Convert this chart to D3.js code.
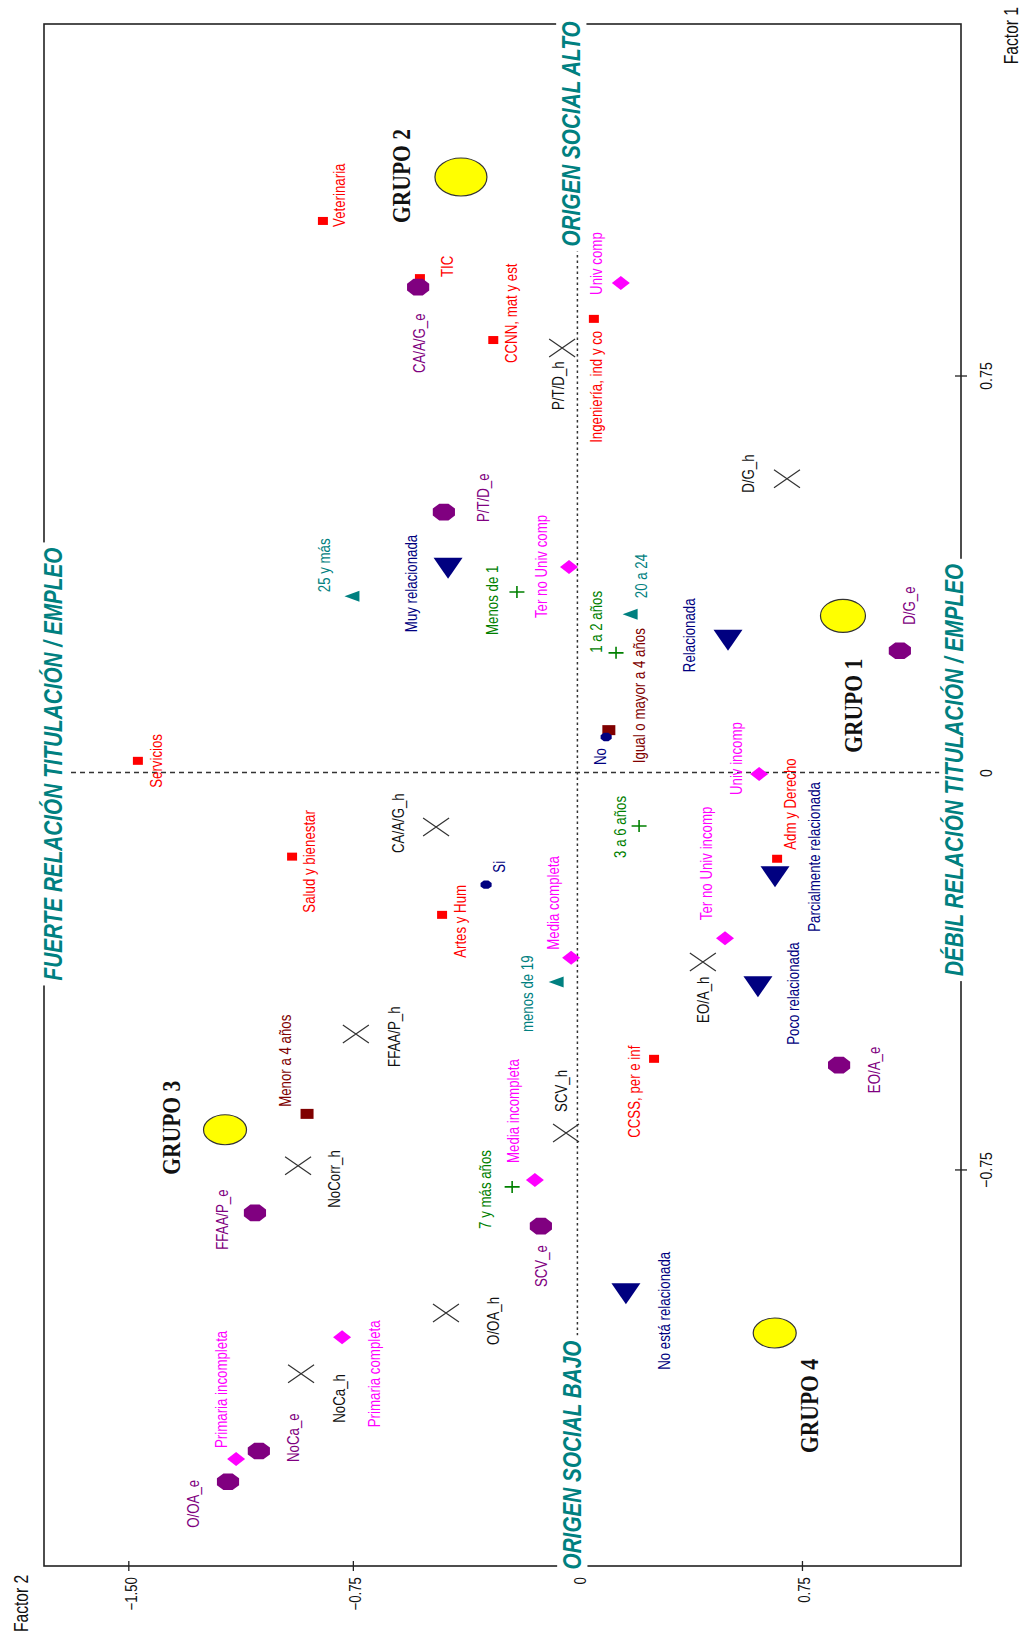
<!DOCTYPE html>
<html>
<head>
<meta charset="utf-8">
<script src="https://cdn.jsdelivr.net/npm/d3@7/dist/d3.min.js"></script>
<style>
  body { margin: 0; background: #fff; }
  svg text { font-family: "Liberation Sans", Arial, sans-serif; }
  svg text.grupo { font-family: "Liberation Serif", "Times New Roman", serif; }
</style>
</head>
<body>
<div id="chart"></div>
<script>
// Mapa factorial girado: Factor 2 en horizontal, Factor 1 en vertical

// Rama de titulación
const titulacion = [
  { name: "Veterinaria", f2: -0.850, f1: 1.042 },
  { name: "TIC", f2: -0.526, f1: 0.934 },
  { name: "CCNN, mat y est", f2: -0.281, f1: 0.817 },
  { name: "Ingeniería, ind y co", f2: 0.055, f1: 0.857 },
  { name: "Servicios", f2: -1.468, f1: 0.022 },
  { name: "Salud y bienestar", f2: -0.953, f1: -0.159 },
  { name: "Artes y Hum", f2: -0.452, f1: -0.269 },
  { name: "Adm y Derecho", f2: 0.667, f1: -0.163 },
  { name: "CCSS, per e inf", f2: 0.256, f1: -0.541 }
];
// Duración de la carrera
const duracion = [
  { name: "Igual o mayor a 4 años", f2: 0.105, f1: 0.080 },
  { name: "Menor a 4 años", f2: -0.903, f1: -0.645 }
];
// Ocupación (e)
const ocupacionE = [
  { name: "CA/A/G_e", f2: -0.532, f1: 0.917 },
  { name: "P/T/D_e", f2: -0.446, f1: 0.492 },
  { name: "D/G_e", f2: 1.077, f1: 0.230 },
  { name: "EO/A_e", f2: 0.874, f1: -0.553 },
  { name: "FFAA/P_e", f2: -1.077, f1: -0.832 },
  { name: "SCV_e", f2: -0.122, f1: -0.857 },
  { name: "NoCa_e", f2: -1.064, f1: -1.282 },
  { name: "O/OA_e", f2: -1.167, f1: -1.340 }
];
// Ocupación (h)
const ocupacionH = [
  { name: "P/T/D_h", f2: -0.051, f1: 0.802 },
  { name: "D/G_h", f2: 0.700, f1: 0.555 },
  { name: "CA/A/G_h", f2: -0.472, f1: -0.103 },
  { name: "FFAA/P_h", f2: -0.740, f1: -0.494 },
  { name: "EO/A_h", f2: 0.419, f1: -0.358 },
  { name: "SCV_h", f2: -0.038, f1: -0.681 },
  { name: "NoCorr_h", f2: -0.933, f1: -0.743 },
  { name: "O/OA_h", f2: -0.439, f1: -1.021 },
  { name: "NoCa_h", f2: -0.923, f1: -1.136 }
];
// Nivel de estudios
const estudios = [
  { name: "Univ comp", f2: 0.145, f1: 0.925 },
  { name: "Ter no Univ comp", f2: -0.028, f1: 0.388 },
  { name: "Univ incomp", f2: 0.607, f1: -0.003 },
  { name: "Ter no Univ incomp", f2: 0.493, f1: -0.313 },
  { name: "Media completa", f2: -0.021, f1: -0.350 },
  { name: "Media incompleta", f2: -0.142, f1: -0.770 },
  { name: "Primaria completa", f2: -0.786, f1: -1.067 },
  { name: "Primaria incompleta", f2: -1.140, f1: -1.297 }
];
// Relación titulación / empleo
const relacion = [
  { name: "Muy relacionada", f2: -0.432, f1: 0.386 },
  { name: "Relacionada", f2: 0.503, f1: 0.250 },
  { name: "Parcialmente relacionada", f2: 0.660, f1: -0.197 },
  { name: "Poco relacionada", f2: 0.603, f1: -0.405 },
  { name: "No está relacionada", f2: 0.162, f1: -0.985 }
];
// Edad
const edad = [
  { name: "25 y más", f2: -0.753, f1: 0.333 },
  { name: "20 a 24", f2: 0.176, f1: 0.299 },
  { name: "menos de 19", f2: -0.071, f1: -0.396 }
];
// Experiencia
const experiencia = [
  { name: "Menos de 1", f2: -0.202, f1: 0.341 },
  { name: "1 a 2 años", f2: 0.129, f1: 0.226 },
  { name: "3 a 6 años", f2: 0.206, f1: -0.101 },
  { name: "7 y más años", f2: -0.218, f1: -0.783 }
];
// Sí / No
const siNo = [
  { name: "No", f2: 0.096, f1: 0.067 },
  { name: "Si", f2: -0.305, f1: -0.212 }
];
// Centros de grupo
const grupos = [
  { name: "GRUPO 1", f2: 0.887, f1: 0.296 },
  { name: "GRUPO 2", f2: -0.389, f1: 1.125 },
  { name: "GRUPO 3", f2: -1.177, f1: -0.675 },
  { name: "GRUPO 4", f2: 0.659, f1: -1.059 }
];

const ticksF2 = [-1.50, -0.75, 0, 0.75];
const ticksF1 = [-0.75, 0, 0.75];

// posición de etiquetas (px respecto al punto)
const labelPos = {
  "Veterinaria": [22, 6], "TIC": [33, -1], "CCNN, mat y est": [24, 23],
  "Ingeniería, ind y co": [8, 124], "Servicios": [24, 27], "Salud y bienestar": [23, 56],
  "Artes y Hum": [24, 43], "Adm y Derecho": [19, -9], "CCSS, per e inf": [-14, 79],
  "Igual o mayor a 4 años": [36, 33], "Menor a 4 años": [-16, -7],
  "CA/A/G_e": [7, 86], "P/T/D_e": [45, 10], "D/G_e": [15, -26], "EO/A_e": [41, 28],
  "FFAA/P_e": [-27, 37], "SCV_e": [6, 61], "NoCa_e": [40, 11], "O/OA_e": [-29, 46],
  "P/T/D_h": [2, 62], "D/G_h": [-33, 14], "CA/A/G_h": [-32, 26], "FFAA/P_h": [44, 33],
  "EO/A_h": [6, 61], "SCV_h": [1, -21], "NoCorr_h": [42, 42], "O/OA_h": [53, 32], "NoCa_h": [44, 49],
  "Univ comp": [-19, 12], "Ter no Univ comp": [-22, 51], "Univ incomp": [-17, 21],
  "Ter no Univ incomp": [-13, -18], "Media completa": [-12, -8], "Media incompleta": [-16, -17],
  "Primaria completa": [38, 90], "Primaria incompleta": [-9, -11],
  "Muy relacionada": [-31, 64], "Relacionada": [-33, 32], "Parcialmente relacionada": [45, 55],
  "Poco relacionada": [41, 58], "No está relacionada": [44, 76],
  "25 y más": [-22, -4], "20 a 24": [17, -16], "menos de 19": [-23, 50],
  "Menos de 1": [-19, 43], "1 a 2 años": [-14, 0], "3 a 6 años": [-13, 32], "7 y más años": [-21, 42],
  "No": [0, 28], "Si": [19, -12],
  "GRUPO 1": [19, 137], "GRUPO 2": [-51, 46], "GRUPO 3": [-45, 45], "GRUPO 4": [43, 120]
};

const W = 1027, H = 1636;
const frame = { left: 44, right: 961, top: 24, bottom: 1566 };

const x = d3.scaleLinear().domain([-1.7816, 1.2812]).range([frame.left, frame.right]);
const y = d3.scaleLinear().domain([-1.4992, 1.4141]).range([frame.bottom, frame.top]);

const svg = d3.select("#chart").append("svg")
  .attr("width", W).attr("height", H);

function rot(px, py, s) {
  return "translate(" + px + "," + py + ") rotate(-90) scale(" + s + ",1)";
}

// marco
svg.append("rect")
  .attr("x", frame.left).attr("y", frame.top)
  .attr("width", frame.right - frame.left).attr("height", frame.bottom - frame.top)
  .attr("fill", "none").attr("stroke", "#222").attr("stroke-width", 1.6);

// ejes por el origen
svg.append("line")
  .attr("x1", x(0)).attr("x2", x(0)).attr("y1", frame.top).attr("y2", frame.bottom)
  .attr("stroke", "#333").attr("stroke-width", 1.5).attr("stroke-dasharray", "2.5,3");
svg.append("line")
  .attr("x1", frame.left).attr("x2", frame.right).attr("y1", y(0)).attr("y2", y(0))
  .attr("stroke", "#333").attr("stroke-width", 1.3).attr("stroke-dasharray", "5,4");

// eje inferior (Factor 2)
let axB = svg.append("g")
  .attr("transform", "translate(0," + frame.bottom + ")")
  .call(d3.axisBottom(x).tickValues(ticksF2).tickSize(4).tickFormat(d3.format(".2f")));
axB.select(".domain").remove();
axB.selectAll(".tick line").attr("y1", -5).attr("y2", 5).attr("stroke", "#222").attr("stroke-width", 1.3);
axB.selectAll(".tick text")
  .attr("y", null).attr("dy", null)
  .attr("transform", rot(8, 11, 0.83))
  .attr("text-anchor", "end")
  .attr("font-size", 16).attr("fill", "#111")
  .text(d => d === 0 ? "0" : d3.format(".2f")(d));

// eje derecho (Factor 1)
let axR = svg.append("g")
  .attr("transform", "translate(" + frame.right + ",0)")
  .call(d3.axisRight(y).tickValues(ticksF1).tickSize(4));
axR.select(".domain").remove();
axR.selectAll(".tick line").attr("x1", -6).attr("x2", 6).attr("stroke", "#222").attr("stroke-width", 1.3);
axR.selectAll(".tick text")
  .attr("x", null).attr("dy", null)
  .attr("transform", rot(31, 0, 0.83))
  .attr("text-anchor", "middle")
  .attr("font-size", 17).attr("fill", "#111")
  .text(d => d === 0 ? "0" : d3.format(".2f")(d));

// títulos de ejes
svg.append("text").attr("transform", rot(1018, 7, 0.78))
  .attr("text-anchor", "end").attr("font-size", 20).attr("fill", "#111").text("Factor 1");
svg.append("text").attr("transform", rot(28, 1632, 0.78))
  .attr("text-anchor", "start").attr("font-size", 20).attr("fill", "#111").text("Factor 2");

// rótulos de los cuadrantes, con fondo blanco
function heading(txt, px, py) {
  let g = svg.append("g").attr("transform", rot(px, py, 0.83));
  let bg = g.append("rect").attr("fill", "#fff");
  let t = g.append("text")
    .attr("text-anchor", "middle")
    .attr("font-size", 25).attr("font-weight", "bold").attr("font-style", "italic")
    .attr("fill", "#008080")
    .text(txt);
  let b = t.node().getBBox();
  bg.attr("x", b.x - 6).attr("y", b.y - 1).attr("width", b.width + 12).attr("height", b.height + 2);
}
heading("ORIGEN SOCIAL ALTO", 580, 134);
heading("ORIGEN SOCIAL BAJO", 581, 1455);
heading("FUERTE RELACIÓN TITULACIÓN / EMPLEO", 62, 764);
heading("DÉBIL RELACIÓN TITULACIÓN / EMPLEO", 963, 770);

// símbolos
function octagon(rx, ry) {
  let pts = d3.range(8).map(i => {
    let a = Math.PI / 8 + i * Math.PI / 4;
    return [rx * Math.cos(a), ry * Math.sin(a)];
  });
  return "M" + pts.join("L") + "Z";
}
const shapes = {
  rect: (w, h) => "M" + (-w / 2) + "," + (-h / 2) + "h" + w + "v" + h + "h" + (-w) + "Z",
  octagon: (w, h) => octagon(w / 2, h / 2),
  cross: (w, h) => "M" + (-w / 2) + "," + (-h / 2) + "L" + (w / 2) + "," + (h / 2) +
                   "M" + (-w / 2) + "," + (h / 2) + "L" + (w / 2) + "," + (-h / 2),
  diamond: (w, h) => "M0," + (-h / 2) + "L" + (w / 2) + ",0L0," + (h / 2) + "L" + (-w / 2) + ",0Z",
  triDown: (w, h) => "M" + (-w / 2) + "," + (-h / 2) + "L" + (w / 2) + "," + (-h / 2) + "L0," + (h / 2) + "Z",
  triLeft: (w, h) => "M" + (-w / 2) + ",0L" + (w / 2) + "," + (-h / 2) + "L" + (w / 2) + "," + (h / 2) + "Z",
  plus: (w, h) => "M" + (-w / 2) + ",0H" + (w / 2) + "M0," + (-h / 2) + "V" + (h / 2)
};

const series = [
  { data: titulacion, shape: "rect", w: 10, h: 8, fill: "#ff0000", label: "#ff0000" },
  { data: duracion, shape: "rect", w: 13, h: 10, fill: "#800000", label: "#800000" },
  { data: ocupacionE, shape: "octagon", w: 24, h: 18, fill: "#800080", label: "#800080" },
  { data: ocupacionH, shape: "cross", w: 26, h: 18, stroke: "#333", label: "#111" },
  { data: estudios, shape: "diamond", w: 18, h: 14, fill: "#ff00ff", label: "#ff00ff" },
  { data: relacion, shape: "triDown", w: 29, h: 21, fill: "#000080", label: "#000080" },
  { data: edad, shape: "triLeft", w: 15, h: 11, fill: "#008080", label: "#008080" },
  { data: experiencia, shape: "plus", w: 15, h: 12, stroke: "#008000", label: "#008000" },
  { data: siNo, shape: "octagon", w: 12, h: 9, fill: "#000080", label: "#000080" }
];

// centros de grupo
const grupoSize = { "GRUPO 1": [45, 33], "GRUPO 2": [52, 38], "GRUPO 3": [43, 30], "GRUPO 4": [43, 30] };
let gg = svg.append("g").attr("class", "grupos");
gg.selectAll("ellipse").data(grupos).enter().append("ellipse")
  .attr("cx", d => x(d.f2)).attr("cy", d => y(d.f1))
  .attr("rx", d => grupoSize[d.name][0] / 2).attr("ry", d => grupoSize[d.name][1] / 2)
  .attr("fill", "#ffff00").attr("stroke", "#333").attr("stroke-width", 1.2);
gg.selectAll("text").data(grupos).enter().append("text")
  .attr("class", "grupo")
  .attr("transform", d => rot(x(d.f2) + labelPos[d.name][0], y(d.f1) + labelPos[d.name][1], 0.83))
  .attr("font-weight", "bold").attr("font-size", 26).attr("fill", "#111")
  .text(d => d.name);

series.forEach(s => {
  let g = svg.append("g");
  g.selectAll("path").data(s.data).enter().append("path")
    .attr("transform", d => "translate(" + x(d.f2) + "," + y(d.f1) + ")")
    .attr("d", shapes[s.shape](s.w, s.h))
    .attr("fill", s.fill || "none")
    .attr("stroke", s.stroke || "none")
    .attr("stroke-width", s.shape === "plus" ? 1.6 : 1.2);
  g.selectAll("text").data(s.data).enter().append("text")
    .attr("transform", d => rot(x(d.f2) + labelPos[d.name][0], y(d.f1) + labelPos[d.name][1], 0.83))
    .attr("font-size", 16).attr("fill", s.label)
    .text(d => d.name);
});
</script>
</body>
</html>
